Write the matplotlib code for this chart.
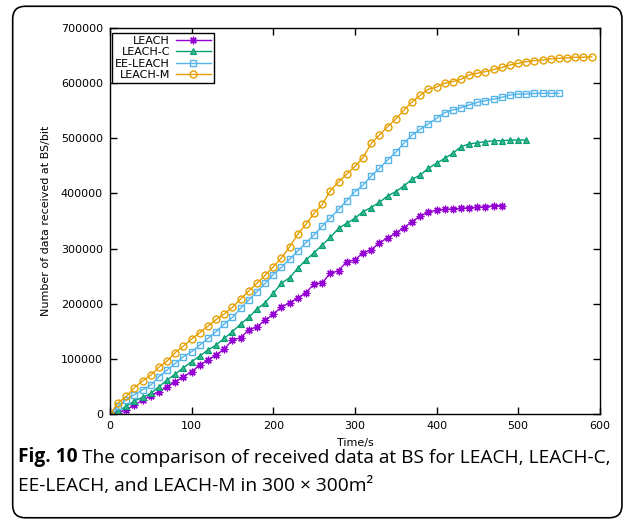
import matplotlib.pyplot as plt
from matplotlib.patches import FancyBboxPatch

# sampling times (s), one point every 10 s
time = list(range(0, 600, 10))

leach = [0, 2000, 8000, 16000, 25000, 33200, 40500, 49500, 58600, 67700,
         76800, 88900, 97900, 107000, 117900, 134200, 138400, 152300, 158300, 170000,
         181000, 194000, 201800, 209800, 220000, 235800, 238200, 255200, 259900, 276200,
         279300, 292500, 297400, 311000, 319000, 328000, 338000, 348700, 359000, 365700,
         369900, 371200, 371800, 373000, 374100, 374800, 376000, 377800, 377800]

leach_c = [0, 5000, 14000, 24000, 30000, 37500, 49500, 61700, 72500, 84000,
           94900, 105200, 116100, 125100, 137300, 149300, 163200, 175300, 190400, 201800,
           218900, 237000, 247200, 264200, 279300, 292500, 306500, 320400, 336700, 345800,
           354900, 366900, 374500, 384000, 395300, 403200, 413500, 425600, 433400, 445600,
           454700, 463700, 472800, 484800, 489700, 492000, 493800, 495600, 495600, 496900,
           497000, 497000]

ee_leach = [0, 14000, 26000, 35000, 44000, 52600, 67700, 79800, 91900, 104000,
            113000, 125000, 137300, 149300, 163200, 175300, 191700, 206700, 221800, 237000,
            253000, 266000, 280500, 295600, 310700, 324600, 341000, 356000, 371200, 386800,
            403200, 415300, 431600, 445600, 460600, 474500, 491000, 506000, 516300, 526000,
            536200, 546400, 551300, 555500, 560400, 565200, 568200, 571300, 574300, 578500,
            580300, 580300, 581500, 581500, 581500, 581500]

leach_m = [0, 20500, 32000, 48000, 60000, 70500, 85000, 96000, 111500, 123000,
           136000, 147500, 159500, 171500, 181500, 193500, 208500, 223000, 237000, 251500,
           267000, 283000, 303000, 326000, 344000, 364000, 380000, 405000, 421000, 435000,
           449000, 465000, 491000, 506000, 521000, 535000, 551000, 566000, 578000, 589000,
           593000, 600000, 603000, 607000, 615000, 618000, 621000, 625000, 628500, 633000,
           636000, 639000, 641000, 642000, 644000, 645000, 646000, 647000, 647000, 648000]

names = ['LEACH', 'LEACH-C', 'EE-LEACH', 'LEACH-M']
x_ticks = [0, 100, 200, 300, 400, 500, 600]
y_ticks = [0, 100000, 200000, 300000, 400000, 500000, 600000, 700000]

plt.rcParams['font.family'] = ['DejaVu Sans']

fig = plt.figure(figsize=(6.34, 5.23), dpi=100)
ax = fig.add_axes([0.1735, 0.2084, 0.7725, 0.738])

ax.plot(time[:len(leach)], leach, color='#9400d3', lw=1, marker=(8, 2, 0),
        ms=5.5, mew=0.9, label=names[0])
ax.plot(time[:len(leach_c)], leach_c, color='#009e73', lw=1, marker='^',
        ms=3.8, mfc='#3cb38a', mew=0.8, label=names[1])
ax.plot(time[:len(ee_leach)], ee_leach, color='#56b4e9', lw=1, marker='s',
        ms=4.5, mfc='none', mew=1, label=names[2])
ax.plot(time[:len(leach_m)], leach_m, color='#e69f00', lw=1, marker='o',
        ms=5, mfc='none', mew=1, label=names[3])

ax.set_xlim(0, 600)
ax.set_ylim(0, 700000)
ax.set_xticks(x_ticks)
ax.set_yticks(y_ticks)
ax.set_yticklabels([str(v) for v in y_ticks])
ax.tick_params(direction='in', top=True, right=True, length=5, width=1,
               labelsize=8, pad=5)
for s in ax.spines.values():
    s.set_linewidth(1)

ax.set_xlabel('Time/s', fontsize=8)
ax.set_ylabel('Number of data received at BS/bit', fontsize=8)
ax.xaxis.set_label_coords(0.5, -0.062)
ax.yaxis.set_label_coords(-0.12, 0.5)

leg = ax.legend(loc='upper left', bbox_to_anchor=(0.004, 0.988), fontsize=8,
                markerfirst=False, fancybox=False, edgecolor='black',
                framealpha=1, labelspacing=0.12, borderpad=0.3,
                handlelength=3.2, handletextpad=0.5, borderaxespad=0)
leg.get_frame().set_linewidth(1)

# rounded frame around the whole figure
frame = FancyBboxPatch((0.02, 0.01), 0.961, 0.978, transform=fig.transFigure,
                       boxstyle='round,pad=0,rounding_size=0.02',
                       mutation_aspect=634 / 523, fill=False,
                       ec='black', lw=1.2)
fig.add_artist(frame)

# caption
cap = dict(family='Open Sans', fontsize=13.8, va='bottom')
b = fig.text(0.028, 0.107, 'Fig. 10', fontweight='bold', **cap)
fig.add_artist(plt.Annotation(' The comparison of received data at BS for LEACH, LEACH-C,',
                              xy=(1, 0), xycoords=b, **cap))
fig.text(0.028, 0.054, 'EE-LEACH, and LEACH-M in 300 \u00d7 300m\u00b2', **cap)

fig.savefig('out.png', dpi=100)
